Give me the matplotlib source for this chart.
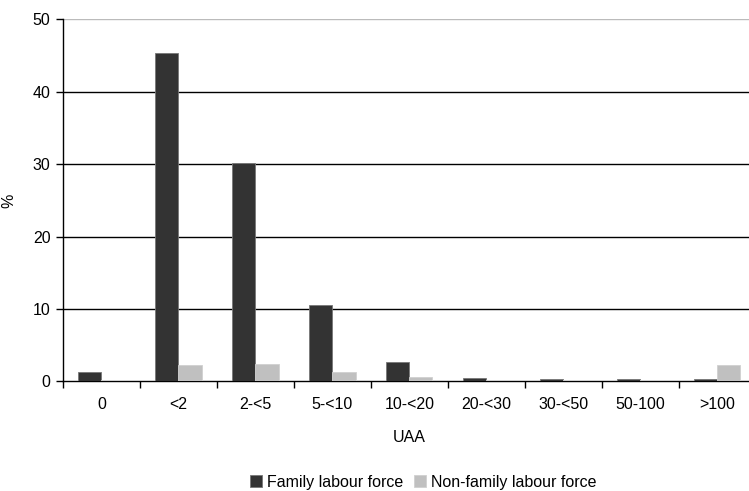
import numpy as np
from matplotlib import pyplot as plt

plt.rcParams['font.family'] = ['Liberation Sans', 'DejaVu Sans']
plt.rcParams['font.size'] = 11.5

categories = ["0", "<2", "2-<5", "5-<10", "10-<20", "20-<30", "30-<50", "50-100", ">100"]
family = [1.25, 45.4, 30.2, 10.6, 2.6, 0.45, 0.3, 0.3, 0.3]
non_family = [0.25, 2.2, 2.45, 1.25, 0.6, 0.2, 0.2, 0.2, 2.2]

fig = plt.figure(figsize=(7.49, 4.91), dpi=100)
ax = fig.add_axes([0.0841, 0.2234, 0.925, 0.737])

x = np.arange(len(categories))
w = 0.3
ax.bar(x - w / 2, family, w, color="#333333", edgecolor="#777777", linewidth=0.6,
       label="Family labour force", zorder=3)
ax.bar(x + w / 2, non_family, w, color="#c0c0c0", edgecolor="#d0d0d0", linewidth=0.6,
       label="Non-family labour force", zorder=3)

ax.set_xlim(-0.5, len(categories) - 0.5)
ax.set_ylim(0, 50)
ax.set_yticks([0, 10, 20, 30, 40, 50])
for v in [10, 20, 30, 40]:
    ax.axhline(v, color="black", linewidth=1.0, zorder=1)
ax.axhline(50, color="#bbbbbb", linewidth=1.0, zorder=1)

ax.set_xticks(x)
ax.set_xticklabels(categories)
ax.set_xticks(np.arange(-0.5, len(categories), 1), minor=True)
ax.tick_params(axis="x", which="major", length=0, pad=11)
ax.tick_params(axis="x", which="minor", length=5, direction="out", width=1)
ax.tick_params(axis="y", length=5, direction="out", width=1, pad=4)

for s in ["top", "right"]:
    ax.spines[s].set_visible(False)
ax.spines["left"].set_linewidth(1)
ax.spines["bottom"].set_linewidth(1)
ax.spines["bottom"].set_zorder(2)

ax.set_xlabel("UAA", labelpad=13)
ax.set_ylabel("%", labelpad=12)

fig.legend(loc="lower center", bbox_to_anchor=(0.565, -0.027), ncol=2, frameon=False,
           handlelength=0.75, handleheight=0.75, handletextpad=0.3, columnspacing=0.7)

fig.savefig("out.png", dpi=100)
